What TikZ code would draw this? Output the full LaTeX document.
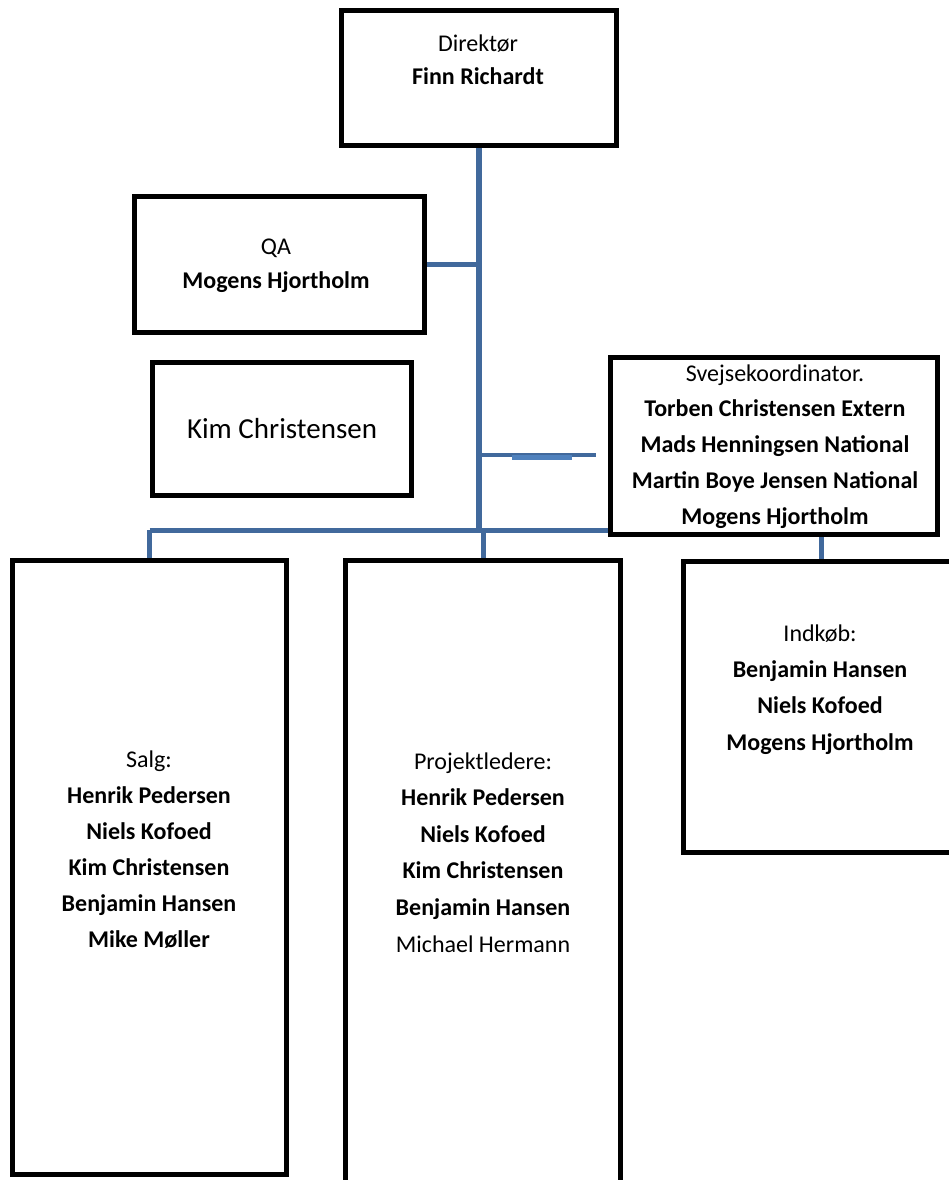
\documentclass[tikz,border=0pt]{standalone}
\usepackage{fontspec}
\setmainfont{Carlito}
\usetikzlibrary{backgrounds}
\definecolor{connblue}{RGB}{65,105,156}
\definecolor{connlight}{RGB}{79,129,189}
\begin{document}
\begin{tikzpicture}[x=1pt,y=-1pt,
  box/.style={draw=black, line width=5pt, inner sep=0pt, fill=white},
  txt/.style={align=center, inner sep=0pt},
  conn/.style={draw=connblue, line width=5pt},
]
\useasboundingbox (0,0) rectangle (949,1180);
\clip (0,0) rectangle (949,1180);

% boxes
\node[box, minimum width=275pt, minimum height=135pt] (dir) at (479,78) {};
\node[box, minimum width=290pt, minimum height=136pt] (qa) at (279.5,264.5) {};
\node[box, minimum width=259pt, minimum height=133pt] (kim) at (282,429) {};
\node[box, minimum width=327pt, minimum height=177pt] (svejse) at (774,446) {};
\node[box, minimum width=274pt, minimum height=614pt] (salg) at (149.5,867.5) {};
\node[box, minimum width=275pt, minimum height=640pt] (proj) at (483,880.5) {};
\node[box, minimum width=275pt, minimum height=291pt] (indk) at (821,707) {};

% junction coordinates
\coordinate (bus) at (479,530);
\coordinate (stub) at (596,455);
\coordinate (hl1) at (512,457);
\coordinate (hl2) at (572,457);

% connectors (behind the boxes)
\begin{scope}[on background layer]
\draw[conn, line width=6pt] (dir.south) -- (dir.south |- bus);
\draw[conn] (qa.east) -- (qa.east -| bus);
\draw[conn, line width=4pt] (bus |- stub) -- (stub);
\draw[draw=connlight, line width=5pt] (hl1) -- (hl2);
\draw[conn] (salg.north |- bus) -- (bus -| svejse.west);
\draw[conn] (salg.north) -- (salg.north |- bus);
\draw[conn] (proj.north) -- (proj.north |- bus);
\draw[conn] (indk.north) -- (indk.north |- svejse.south);
\end{scope}

% texts (anchor=base is the baseline of the last line)
\node[txt, anchor=base, font=\fontsize{24}{33}\selectfont] (tdir) at (478,85)
  {Direktør\\\textbf{Finn Richardt}};
\node[txt, anchor=base, font=\fontsize{24}{34}\selectfont] (tqa) at (276,288)
  {QA\\\textbf{Mogens Hjortholm}};
\node[txt, anchor=base, font=\fontsize{29}{34}\selectfont] (tkim) at (282,438)
  {Kim Christensen};
\node[txt, anchor=base, font=\fontsize{24}{35.75}\selectfont] (tsv) at (775,524)
  {Svejsekoordinator.\\\textbf{Torben Christensen Extern}\\\textbf{Mads Henningsen National}\\\textbf{Martin Boye Jensen National}\\\textbf{Mogens Hjortholm}};
\node[txt, anchor=base, font=\fontsize{24}{36}\selectfont] (tsalg) at (149,947)
  {Salg:\\\textbf{Henrik Pedersen}\\\textbf{Niels Kofoed}\\\textbf{Kim Christensen}\\\textbf{Benjamin Hansen}\\\textbf{Mike Møller}};
\node[txt, anchor=base, font=\fontsize{24}{36.6}\selectfont] (tproj) at (483,952)
  {Projektledere:\\\textbf{Henrik Pedersen}\\\textbf{Niels Kofoed}\\\textbf{Kim Christensen}\\\textbf{Benjamin Hansen}\\Michael Hermann};
\node[txt, anchor=base, font=\fontsize{24}{36.3}\selectfont] (tindk) at (820,750)
  {Indkøb:\\\textbf{Benjamin Hansen}\\\textbf{Niels Kofoed}\\\textbf{Mogens Hjortholm}};
\end{tikzpicture}
\end{document}
